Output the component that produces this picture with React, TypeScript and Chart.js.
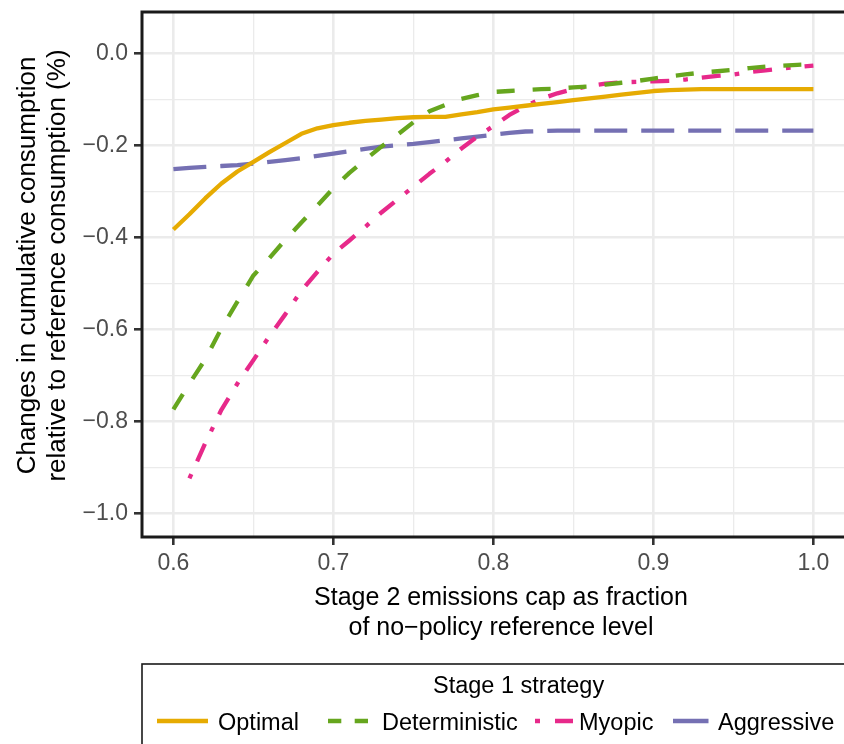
import React, { useEffect, useRef } from 'react';
import { Chart, registerables } from 'chart.js';

Chart.register(...registerables);

// ---- data ----
const capFractions = [
  0.60, 0.61, 0.62, 0.63, 0.64, 0.65, 0.66, 0.67, 0.68, 0.69,
  0.70, 0.71, 0.72, 0.73, 0.74, 0.75, 0.76, 0.77, 0.78, 0.79,
  0.80, 0.81, 0.82, 0.83, 0.84, 0.85, 0.86, 0.87, 0.88, 0.89,
  0.90, 0.91, 0.92, 0.93, 0.94, 0.95, 0.96, 0.97, 0.98, 0.99, 1.00,
];

const optimal = [
  -0.383, -0.350, -0.315, -0.283, -0.257, -0.236, -0.215, -0.195, -0.175, -0.163,
  -0.156, -0.151, -0.147, -0.144, -0.141, -0.139, -0.138, -0.138, -0.133, -0.128,
  -0.122, -0.118, -0.114, -0.110, -0.106, -0.102, -0.098, -0.094, -0.090, -0.086,
  -0.082, -0.080, -0.079, -0.078, -0.078, -0.078, -0.078, -0.078, -0.078, -0.078, -0.078,
];

const deterministic = [
  -0.774, -0.718, -0.665, -0.598, -0.540, -0.483, -0.445, -0.405, -0.368, -0.331,
  -0.293, -0.260, -0.231, -0.203, -0.177, -0.150, -0.126, -0.112, -0.099, -0.091,
  -0.084, -0.082, -0.080, -0.078, -0.077, -0.074, -0.072, -0.068, -0.064, -0.060,
  -0.055, -0.050, -0.046, -0.042, -0.039, -0.036, -0.032, -0.029, -0.027, -0.025, -0.024,
];

const myopic = [
  null, -0.924, -0.847, -0.775, -0.718, -0.667, -0.615, -0.567, -0.516, -0.475,
  -0.436, -0.407, -0.377, -0.346, -0.318, -0.290, -0.262, -0.236, -0.207, -0.181,
  -0.158, -0.134, -0.115, -0.099, -0.087, -0.078, -0.071, -0.066, -0.063, -0.062,
  -0.061, -0.060, -0.057, -0.053, -0.049, -0.046, -0.041, -0.037, -0.033, -0.030, -0.027,
];

const aggressive = [
  -0.252, -0.249, -0.247, -0.245, -0.243, -0.240, -0.236, -0.232, -0.228, -0.223,
  -0.218, -0.213, -0.208, -0.203, -0.200, -0.197, -0.193, -0.189, -0.185, -0.181,
  -0.177, -0.173, -0.170, -0.169, -0.168, -0.168, -0.168, -0.168, -0.168, -0.168,
  -0.168, -0.168, -0.168, -0.168, -0.168, -0.168, -0.168, -0.168, -0.168, -0.168, -0.168,
];

const seriesNames = ['Optimal', 'Deterministic', 'Myopic', 'Aggressive'];
const seriesColors = ['#E6AB02', '#66A61E', '#E7298A', '#7570B3'];
const seriesValues = [optimal, deterministic, myopic, aggressive];
const seriesDashes: number[][] = [[], [18, 18], [4.7, 14, 19, 14], [33, 14]];

const xMajorTicks = [0.6, 0.7, 0.8, 0.9, 1.0];
const xMinorTicks = [0.65, 0.75, 0.85, 0.95];
const xTickLabels = ['0.6', '0.7', '0.8', '0.9', '1.0'];
const yMajorTicks = [0, -0.2, -0.4, -0.6, -0.8, -1.0];
const yMinorTicks = [-0.1, -0.3, -0.5, -0.7, -0.9];
const yTickLabels = ['0.0', '\u22120.2', '\u22120.4', '\u22120.6', '\u22120.8', '\u22121.0'];

const xTitle = ['Stage 2 emissions cap as fraction', 'of no\u2212policy reference level'];
const yTitle = ['Changes in cumulative consumption', 'relative to reference consumption (%)'];
const legendTitle = 'Stage 1 strategy';

const FONT = "'Liberation Sans', Arial, Helvetica, sans-serif";

const majorIndex = (list: number[], v: number) =>
  list.findIndex((m) => Math.abs(m - v) < 1e-6);

const panelBorder = {
  id: 'panelBorder',
  afterDatasetsDraw(chart: any) {
    const { ctx, chartArea } = chart;
    ctx.save();
    ctx.strokeStyle = '#1A1A1A';
    ctx.lineWidth = 3;
    ctx.strokeRect(chartArea.left, chartArea.top, chartArea.right - chartArea.left, chartArea.bottom - chartArea.top);
    ctx.restore();
  },
};

// axis title layout (positions only)
const xTitlePos = { x: 501, y: 605, lineHeight: 30 };
const yTitlePos = { x: 28, y: 265.5, lineHeight: 30 };

const axisTitles = {
  id: 'axisTitles',
  afterDraw(chart: any) {
    const ctx = chart.ctx;
    ctx.save();
    ctx.fillStyle = '#000000';
    ctx.font = `25px ${FONT}`;
    ctx.textAlign = 'center';
    ctx.textBaseline = 'alphabetic';
    xTitle.forEach((line, i) => ctx.fillText(line, xTitlePos.x, xTitlePos.y + i * xTitlePos.lineHeight));
    ctx.font = `26px ${FONT}`;
    ctx.textBaseline = 'middle';
    yTitle.forEach((line, i) => {
      ctx.save();
      ctx.translate(yTitlePos.x + i * yTitlePos.lineHeight, yTitlePos.y);
      ctx.rotate(-Math.PI / 2);
      ctx.fillText(line, 0, 0);
      ctx.restore();
    });
    ctx.restore();
  },
};

// legend layout (positions only)
const legendBox = { left: 142, top: 664, right: 848, bottom: 790 };
const legendTitlePos = { x: 433, y: 692.5 };
const legendKeys = [
  { x1: 157, x2: 208, text: 218 },
  { x1: 328, x2: 368.5, text: 382, dash: [13.3, 13.4] },
  { x1: 535, x2: 573, text: 579, dash: [5, 15, 18, 100] },
  { x1: 673, x2: 708.5, text: 718 },
];
const legendKeyY = 721;
const legendTextY = 729.5;

const legendPlugin = {
  id: 'customLegend',
  afterDraw(chart: any) {
    const ctx = chart.ctx;
    ctx.save();
    ctx.strokeStyle = '#1A1A1A';
    ctx.lineWidth = 1.6;
    ctx.strokeRect(legendBox.left, legendBox.top, legendBox.right - legendBox.left, legendBox.bottom - legendBox.top);
    ctx.fillStyle = '#000000';
    ctx.font = `23.5px ${FONT}`;
    ctx.textAlign = 'left';
    ctx.textBaseline = 'alphabetic';
    ctx.fillText(legendTitle, legendTitlePos.x, legendTitlePos.y);
    seriesNames.forEach((name, i) => {
      const k = legendKeys[i];
      ctx.save();
      ctx.strokeStyle = seriesColors[i];
      ctx.lineWidth = 4.3;
      ctx.lineCap = 'butt';
      ctx.setLineDash(k.dash || []);
      ctx.beginPath();
      ctx.moveTo(k.x1, legendKeyY);
      ctx.lineTo(k.x2, legendKeyY);
      ctx.stroke();
      ctx.restore();
      ctx.fillStyle = '#000000';
      ctx.fillText(name, k.text, legendTextY);
    });
    ctx.restore();
  },
};

export default function App() {
  const canvasRef = useRef<HTMLCanvasElement | null>(null);

  useEffect(() => {
    if (!canvasRef.current) return;
    Chart.defaults.font.family = FONT;

    const datasets = seriesNames.map((name, i) => ({
      label: name,
      data: capFractions.map((x, j) => ({ x, y: seriesValues[i][j] })),
      borderColor: seriesColors[i],
      backgroundColor: seriesColors[i],
      borderWidth: 4.3,
      borderDash: seriesDashes[i],
      borderCapStyle: 'butt' as const,
      borderJoinStyle: 'round' as const,
      pointRadius: 0,
      pointHoverRadius: 0,
      tension: 0,
      fill: false,
      spanGaps: false,
    }));

    const chart = new Chart(canvasRef.current, {
      type: 'line',
      data: { datasets },
      plugins: [panelBorder, axisTitles, legendPlugin],
      options: {
        animation: false,
        responsive: false,
        devicePixelRatio: 1,
        events: [],
        layout: { padding: { top: 12, left: 0, right: 2, bottom: 105 } },
        plugins: {
          legend: { display: false },
          tooltip: { enabled: false },
          title: { display: false },
        },
        scales: {
          x: {
            type: 'linear',
            min: 0.6 - 31.4 / 1600,
            max: 0.6 + (860 - 173.4) / 1600,
            afterBuildTicks: (scale: any) => {
              scale.ticks = [...xMajorTicks, ...xMinorTicks].sort((a, b) => a - b).map((v) => ({ value: v }));
            },
            afterFit: (scale: any) => {
              scale.height = 102;
              scale.paddingLeft = 0;
              scale.paddingRight = 0;
            },
            ticks: {
              autoSkip: false,
              maxRotation: 0,
              minRotation: 0,
              padding: 5,
              color: '#4D4D4D',
              font: { size: 23, family: FONT },
              callback: (value: any) => {
                const idx = majorIndex(xMajorTicks, Number(value));
                return idx >= 0 ? xTickLabels[idx] : '';
              },
            },
            grid: {
              color: '#EBEBEB',
              lineWidth: (c: any) => (majorIndex(xMajorTicks, c.tick?.value) >= 0 ? 2.6 : 1.3),
              tickColor: (c: any) => (majorIndex(xMajorTicks, c.tick?.value) >= 0 ? '#333333' : 'rgba(0,0,0,0)'),
              tickWidth: 2.6,
              tickLength: 8,
              drawTicks: true,
            },
            border: { display: false },
            title: { display: false },
          },
          y: {
            type: 'linear',
            min: -(537 - 53.3) / 460,
            max: -(12 - 53.3) / 460,
            afterBuildTicks: (scale: any) => {
              scale.ticks = [...yMajorTicks, ...yMinorTicks].sort((a, b) => a - b).map((v) => ({ value: v }));
            },
            afterFit: (scale: any) => {
              scale.width = 142;
              scale.paddingTop = 0;
              scale.paddingBottom = 0;
            },
            ticks: {
              autoSkip: false,
              padding: 6,
              color: '#4D4D4D',
              font: { size: 23, family: FONT },
              callback: (value: any) => {
                const idx = majorIndex(yMajorTicks, Number(value));
                return idx >= 0 ? yTickLabels[idx] : '';
              },
            },
            grid: {
              color: '#EBEBEB',
              lineWidth: (c: any) => (majorIndex(yMajorTicks, c.tick?.value) >= 0 ? 2.6 : 1.3),
              tickColor: (c: any) => (majorIndex(yMajorTicks, c.tick?.value) >= 0 ? '#333333' : 'rgba(0,0,0,0)'),
              tickWidth: 2.6,
              tickLength: 8,
              drawTicks: true,
            },
            border: { display: false },
            title: { display: false },
          },
        },
      },
    });

    return () => chart.destroy();
  }, []);

  return (
    <div
      style={{
        position: 'fixed',
        left: 0,
        top: 0,
        width: 844,
        height: 744,
        overflow: 'hidden',
        background: '#FFFFFF',
      }}
    >
      <canvas ref={canvasRef} width={862} height={744} style={{ display: 'block', width: 862, height: 744 }} />
    </div>
  );
}
